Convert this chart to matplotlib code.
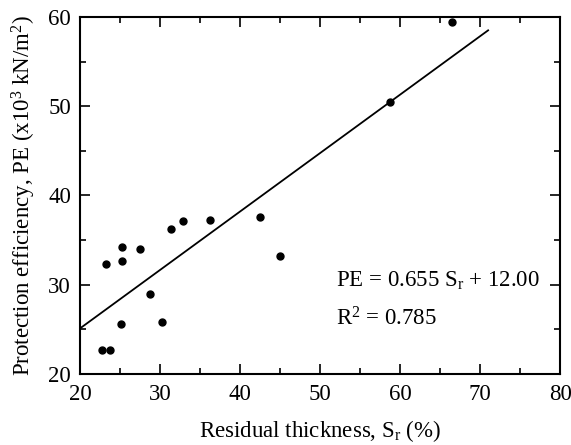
import matplotlib
matplotlib.use("Agg")
import matplotlib.pyplot as plt
import numpy as np

plt.rcParams['font.family'] = ['Liberation Serif', 'DejaVu Serif']
plt.rcParams['mathtext.fontset'] = 'custom'
plt.rcParams['mathtext.rm'] = 'Liberation Serif'
plt.rcParams['mathtext.it'] = 'Liberation Serif:italic'

sr = [23.25, 25.2, 25.2, 27.5, 31.4, 32.9, 36.3, 42.5, 45.0, 28.75, 25.1, 30.25, 22.75, 23.75, 58.75, 66.5]
pe = [32.35, 32.7, 34.2, 34.0, 36.2, 37.1, 37.2, 37.6, 33.2, 29.0, 25.6, 25.8, 22.65, 22.7, 50.5, 59.45]
slope = 0.655
intercept = 12.00
fit_x = [20, 71]

fig = plt.figure(figsize=(5.71, 4.45), dpi=100)
ax = fig.add_axes([0.140, 0.1596, 0.841, 0.8022])

ax.plot(sr, pe, 'o', color='black', markersize=5)
fx = np.array(fit_x, dtype=float)
ax.plot(fx, slope * fx + intercept, color='black', lw=1.3)

ax.set_xlim(20, 80)
ax.set_ylim(20, 60)
ax.set_xticks([20, 30, 40, 50, 60, 70, 80])
ax.set_yticks([20, 30, 40, 50, 60])
ax.set_xticks(np.arange(25, 80, 10), minor=True)
ax.set_yticks(np.arange(25, 60, 10), minor=True)
ax.tick_params(which='both', direction='in', top=True, right=True, labelsize=16.5, width=1.2)
ax.tick_params(which='major', length=7)
ax.tick_params(which='minor', length=4)
ax.tick_params(axis='x', which='major', pad=7.5)
ax.tick_params(axis='y', which='major', pad=6.5)
for s in ax.spines.values():
    s.set_linewidth(1.5)

ax.set_xlabel(r'Residual thickness, S$_{\mathrm{r}}$ (%)', fontsize=16.5, labelpad=9)
ax.set_ylabel(r'Protection efficiency, PE (x10$^{3}$ kN/m$^{2}$)', fontsize=16.5, labelpad=7)

ax.text(0.533, 0.244, r'PE = 0.655 S$_{\mathrm{r}}$ + 12.00', transform=ax.transAxes,
        fontsize=16.5, va='baseline')
ax.text(0.533, 0.137, r'R$^{2}$ = 0.785', transform=ax.transAxes, fontsize=16.5, va='baseline')

fig.savefig('out.png', dpi=100)
